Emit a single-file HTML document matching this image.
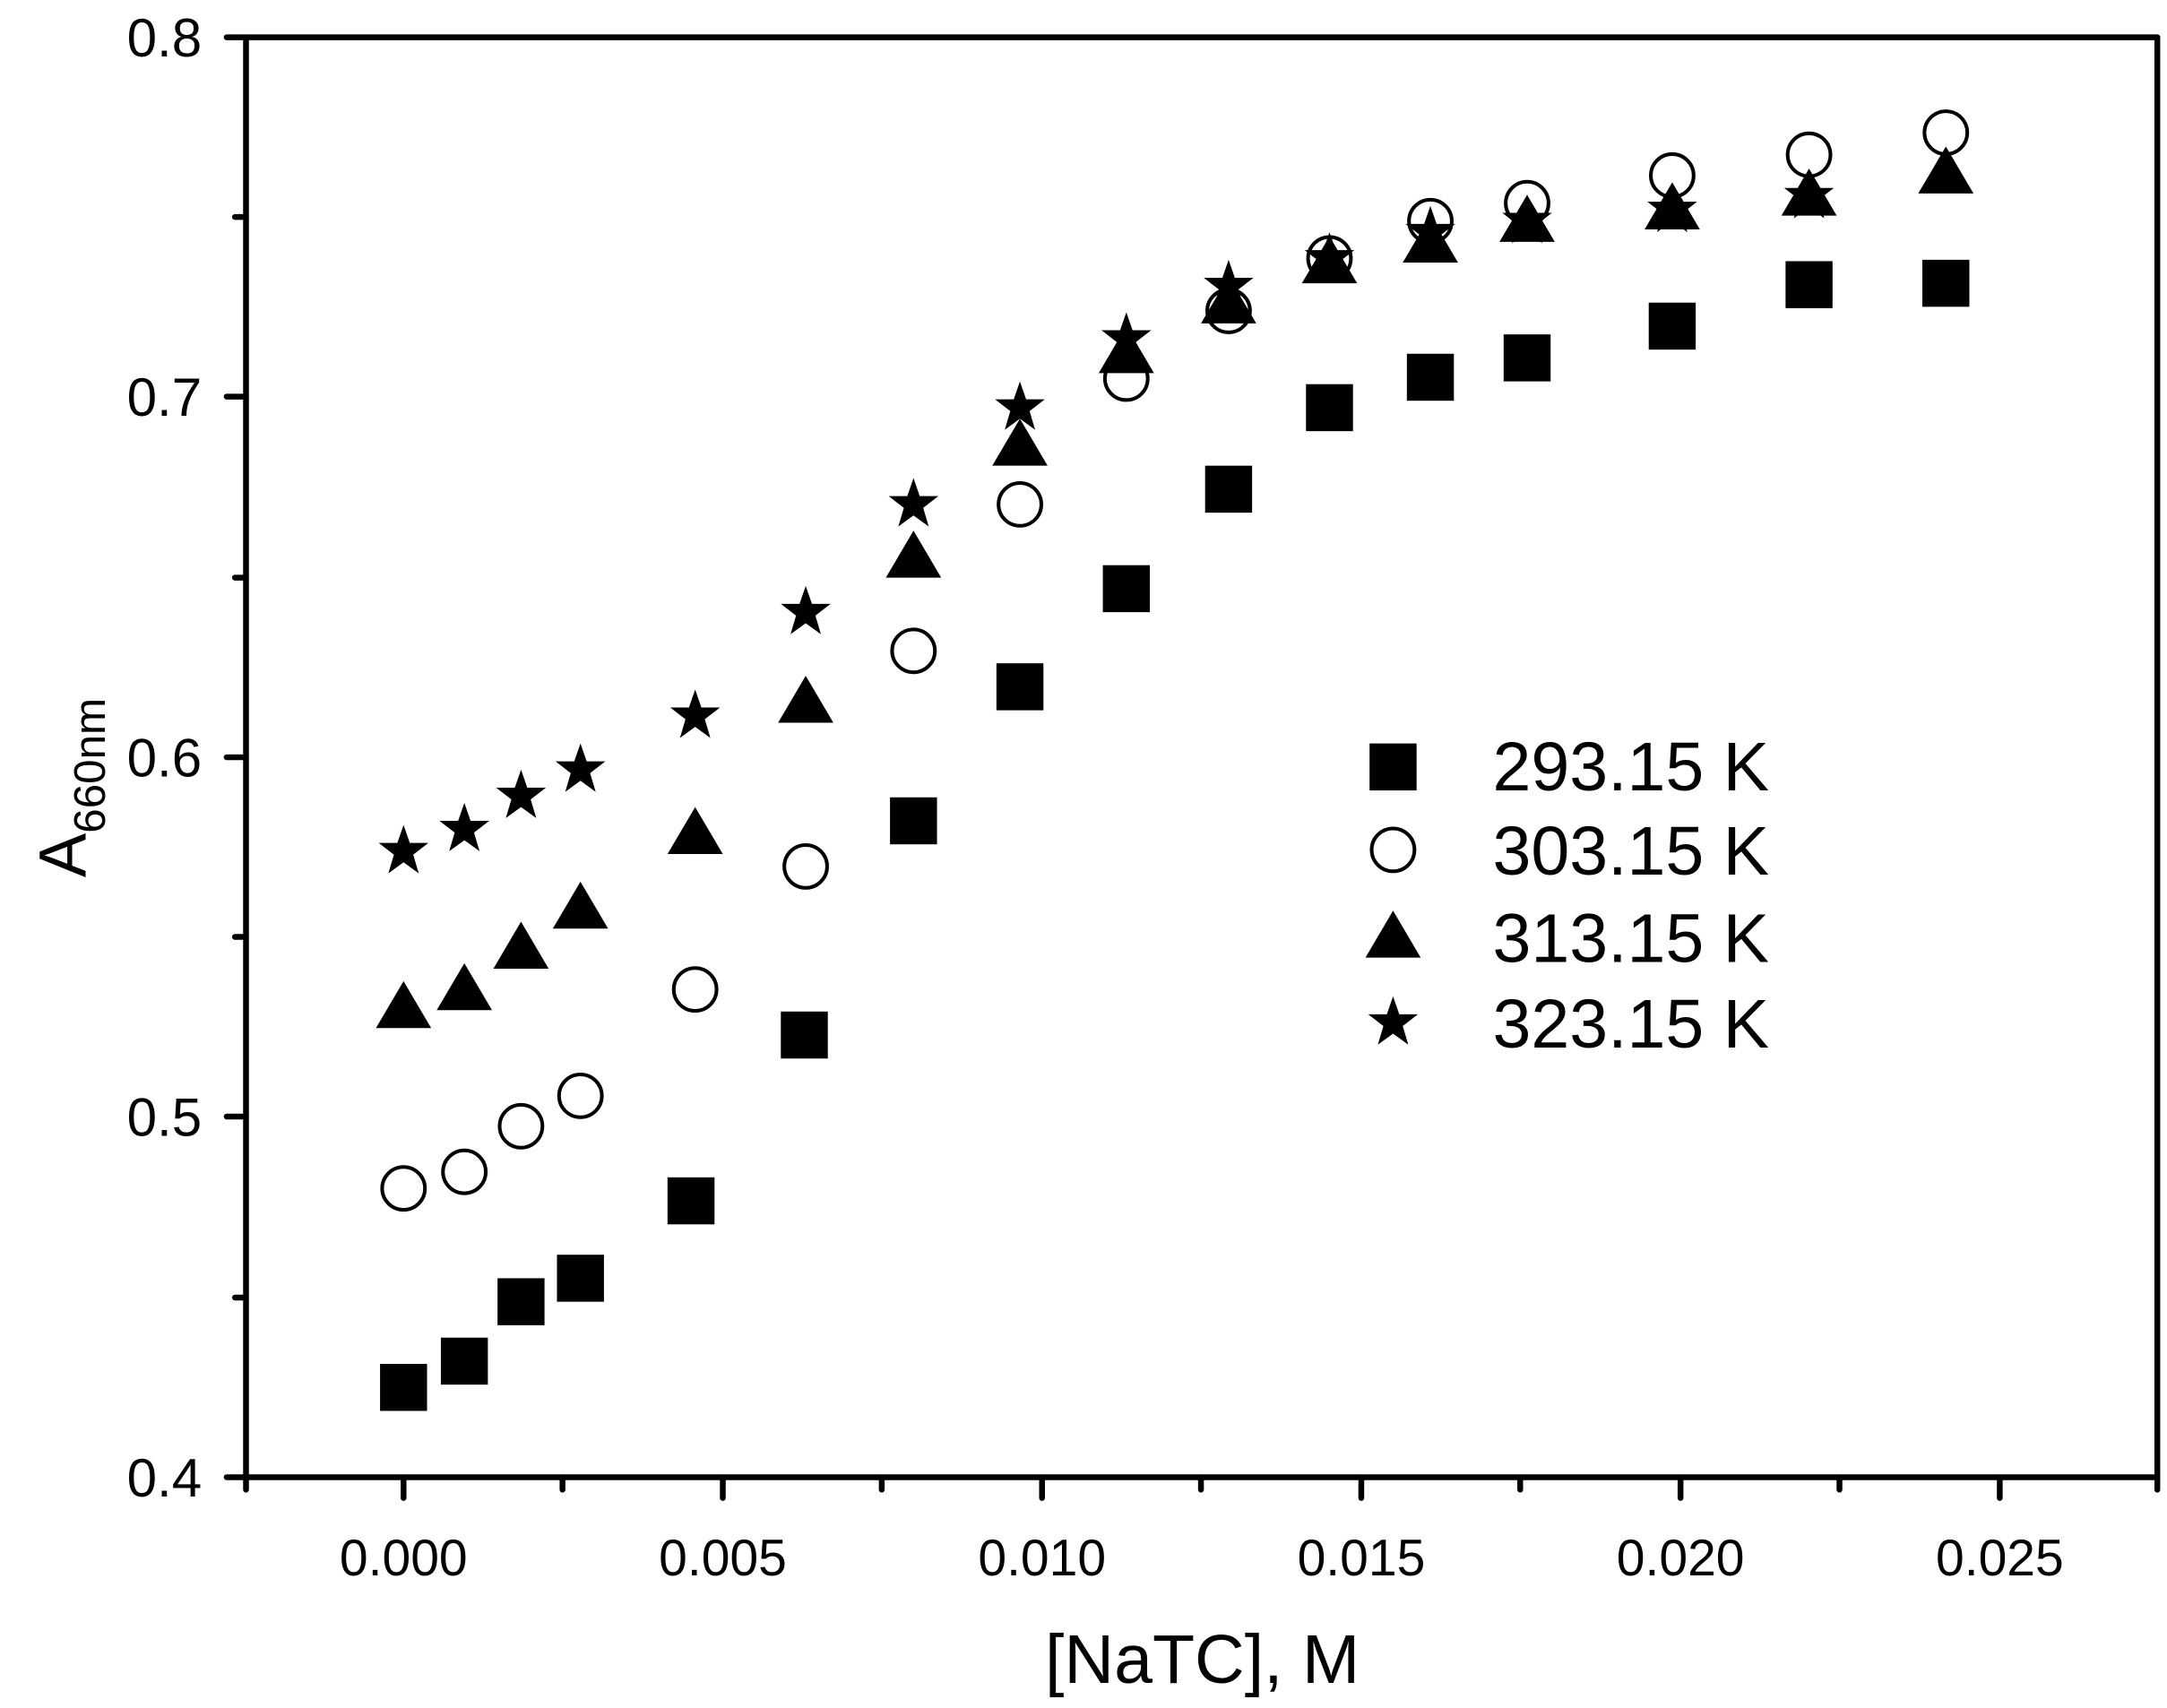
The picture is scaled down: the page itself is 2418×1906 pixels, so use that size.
<!DOCTYPE html>
<html><head><meta charset="utf-8"><style>html,body{margin:0;padding:0;background:#fff}svg{display:block}</style></head>
<body>
<svg width="2418" height="1906" viewBox="0 0 1568 1236" xmlns="http://www.w3.org/2000/svg" font-family="Liberation Sans, Arial, sans-serif">
<defs>
<rect id="sq" x="-17" y="-17" width="34" height="34" fill="#000"/>
<circle id="ci" r="15.5" fill="#fff" stroke="#000" stroke-width="2.6"/>
<polygon id="tr" points="0,-19 20,15 -20,15" fill="#000"/>
<polygon id="st" points="0,-19 4.5,-6 18,-6 7,2.5 11,16 0,8 -11,16 -7,2.5 -18,-6 -4.5,-6" fill="#000"/>
</defs>
<g stroke="#000" stroke-width="4.2" stroke-linecap="round" fill="none">
<line x1="178" y1="27" x2="1561" y2="27"/>
<line x1="178" y1="27" x2="178" y2="1069"/>
<line x1="178" y1="1069" x2="1561" y2="1069"/>
<line x1="1561" y1="27" x2="1561" y2="1069"/>
<line x1="164" y1="27" x2="178" y2="27"/>
<line x1="164" y1="287" x2="178" y2="287"/>
<line x1="164" y1="548" x2="178" y2="548"/>
<line x1="164" y1="808" x2="178" y2="808"/>
<line x1="164" y1="1069" x2="178" y2="1069"/>
<line x1="170" y1="157" x2="178" y2="157"/>
<line x1="170" y1="418" x2="178" y2="418"/>
<line x1="170" y1="678" x2="178" y2="678"/>
<line x1="170" y1="939" x2="178" y2="939"/>
<line x1="292" y1="1069" x2="292" y2="1084"/>
<line x1="523" y1="1069" x2="523" y2="1084"/>
<line x1="754" y1="1069" x2="754" y2="1084"/>
<line x1="985" y1="1069" x2="985" y2="1084"/>
<line x1="1216" y1="1069" x2="1216" y2="1084"/>
<line x1="1447" y1="1069" x2="1447" y2="1084"/>
<line x1="178" y1="1069" x2="178" y2="1078"/>
<line x1="407" y1="1069" x2="407" y2="1078"/>
<line x1="638" y1="1069" x2="638" y2="1078"/>
<line x1="869" y1="1069" x2="869" y2="1078"/>
<line x1="1100" y1="1069" x2="1100" y2="1078"/>
<line x1="1331" y1="1069" x2="1331" y2="1078"/>
<line x1="1561" y1="1069" x2="1561" y2="1078"/>
</g>
<g font-size="39" text-anchor="end">
<text x="146" y="41">0.8</text>
<text x="146" y="301">0.7</text>
<text x="146" y="562">0.6</text>
<text x="146" y="822">0.5</text>
<text x="146" y="1083">0.4</text>
</g>
<g font-size="37" text-anchor="middle">
<text x="292" y="1140">0.000</text>
<text x="523" y="1140">0.005</text>
<text x="754" y="1140">0.010</text>
<text x="985" y="1140">0.015</text>
<text x="1216" y="1140">0.020</text>
<text x="1447" y="1140">0.025</text>
</g>
<text x="870" y="1218" font-size="50" text-anchor="middle">[NaTC], M</text>
<g transform="translate(62,570) rotate(-90)"><text x="0" y="0" font-size="48" text-anchor="middle">A<tspan font-size="32" dy="14">660nm</tspan></text></g>
<g>
<use href="#sq" x="292" y="1004"/><use href="#sq" x="336" y="985"/><use href="#sq" x="377" y="942"/><use href="#sq" x="420" y="925"/><use href="#sq" x="500" y="869"/><use href="#sq" x="582" y="749"/><use href="#sq" x="661" y="594"/><use href="#sq" x="738" y="497"/><use href="#sq" x="815" y="426"/><use href="#sq" x="889" y="354"/><use href="#sq" x="962" y="295"/><use href="#sq" x="1035" y="273"/><use href="#sq" x="1105" y="259"/><use href="#sq" x="1210" y="236"/><use href="#sq" x="1309" y="206"/><use href="#sq" x="1408" y="205"/>
</g>
<g>
<use href="#ci" x="292" y="860"/><use href="#ci" x="336" y="848"/><use href="#ci" x="377" y="815"/><use href="#ci" x="420" y="793"/><use href="#ci" x="503" y="716"/><use href="#ci" x="583" y="627"/><use href="#ci" x="661" y="471"/><use href="#ci" x="738" y="365"/><use href="#ci" x="815" y="274"/><use href="#ci" x="889" y="225"/><use href="#ci" x="962" y="187"/><use href="#ci" x="1035" y="160"/><use href="#ci" x="1105" y="147"/><use href="#ci" x="1210" y="127"/><use href="#ci" x="1309" y="112"/><use href="#ci" x="1408" y="96"/>
</g>
<g>
<use href="#tr" x="292" y="729"/><use href="#tr" x="336" y="716"/><use href="#tr" x="377" y="686"/><use href="#tr" x="420" y="657"/><use href="#tr" x="503" y="603"/><use href="#tr" x="583" y="508"/><use href="#tr" x="661" y="403"/><use href="#tr" x="738" y="322"/><use href="#tr" x="815" y="255"/><use href="#tr" x="889" y="219"/><use href="#tr" x="962" y="190"/><use href="#tr" x="1035" y="175"/><use href="#tr" x="1105" y="160"/><use href="#tr" x="1210" y="151"/><use href="#tr" x="1309" y="141"/><use href="#tr" x="1408" y="125"/>
</g>
<g>
<use href="#st" x="292" y="616"/><use href="#st" x="336" y="600"/><use href="#st" x="377" y="576"/><use href="#st" x="420" y="557"/><use href="#st" x="503" y="518"/><use href="#st" x="583" y="443"/><use href="#st" x="661" y="365"/><use href="#st" x="738" y="295"/><use href="#st" x="815" y="245"/><use href="#st" x="889" y="207"/><use href="#st" x="962" y="187"/><use href="#st" x="1035" y="168"/><use href="#st" x="1105" y="160"/><use href="#st" x="1210" y="152"/><use href="#st" x="1309" y="142"/>
</g>
<use href="#sq" x="1008" y="555"/>
<use href="#ci" x="1008" y="615"/>
<use href="#tr" x="1008" y="678"/>
<use href="#st" x="1008" y="740"/>
<g font-size="50">
<text x="1080" y="572">293.15 K</text>
<text x="1080" y="633">303.15 K</text>
<text x="1080" y="696">313.15 K</text>
<text x="1080" y="758">323.15 K</text>
</g>
</svg>
</body></html>
